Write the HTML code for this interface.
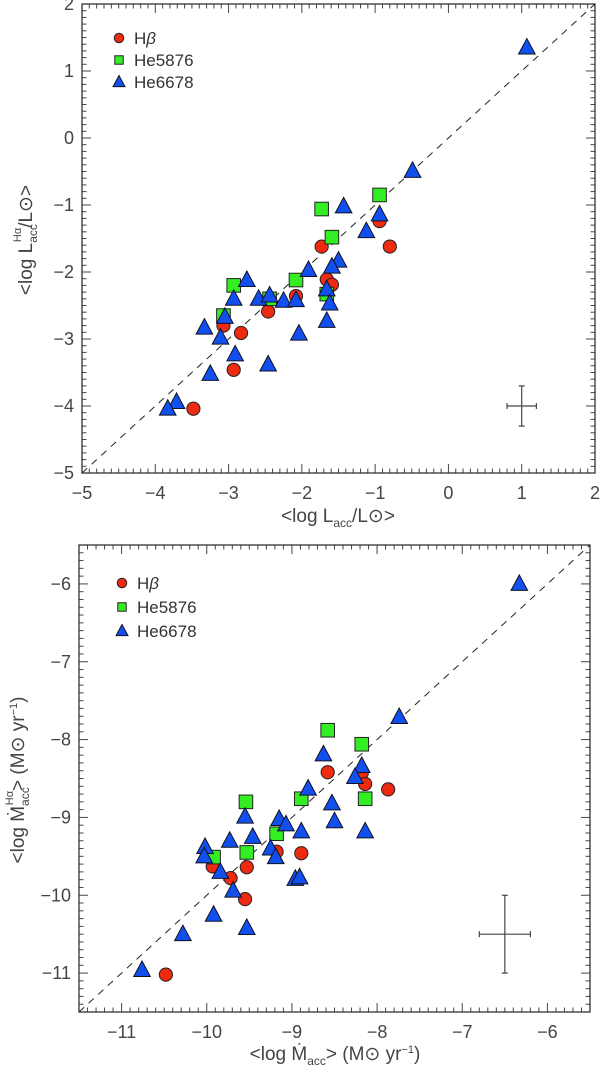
<!DOCTYPE html>
<html><head><meta charset="utf-8">
<style>
html,body{margin:0;padding:0;background:#fff;}
svg{display:block;font-family:"Liberation Sans",sans-serif;}
</style></head>
<body>
<svg id="chart" width="600" height="1066" viewBox="0 0 600 1066" xmlns="http://www.w3.org/2000/svg"></svg>
<script>
// ---- Top panel data (log Lacc) ----
const topHbX = [-3.48,-3.07,-2.83,-2.93,-2.46,-2.08,-1.73,-1.66,-1.59,-0.94,-0.80];
const topHbY = [-4.04,-2.80,-2.91,-3.46,-2.59,-2.36,-1.62,-2.11,-2.19,-1.24,-1.62];
const topHe58X = [-0.94,-1.73,-1.59,-2.08,-2.93,-3.07,-2.44,-1.66];
const topHe58Y = [-0.85,-1.06,-1.48,-2.12,-2.20,-2.65,-2.40,-2.33];
const topHe66X = [1.07,-0.49,-1.43,-0.94,-1.12,-1.50,-1.59,-1.91,-2.75,-2.93,-2.59,-2.44,-2.25,-2.08,-1.66,-1.62,-1.66,-2.04,-3.05,-3.33,-3.11,-2.91,-2.46,-3.25,-3.71,-3.83];
const topHe66Y = [1.35,-0.49,-1.02,-1.14,-1.39,-1.83,-1.92,-1.97,-2.12,-2.40,-2.40,-2.35,-2.43,-2.42,-2.26,-2.47,-2.73,-2.92,-2.67,-2.83,-2.98,-3.23,-3.38,-3.52,-3.94,-4.04];
const topErr = [1.0,-4.0,0.2,0.3];
const topTicks = [-5,-4,-3,-2,-1,0,1,2];
// ---- Bottom panel data (log Mdot) ----
const botHbX = [-10.48,-9.93,-9.72,-9.53,-9.55,-9.18,-8.89,-8.58,-8.18,-8.14,-7.87];
const botHbY = [-11.02,-9.63,-9.78,-9.64,-10.05,-9.44,-9.46,-8.42,-8.43,-8.57,-8.64];
const botHe58X = [-8.58,-8.18,-8.14,-8.89,-9.54,-9.18,-9.53,-9.92];
const botHe58Y = [-7.88,-8.06,-8.76,-8.76,-8.80,-9.21,-9.45,-9.51];
const botHe66X = [-6.33,-7.74,-8.63,-8.18,-8.26,-8.81,-8.53,-8.50,-8.14,-8.89,-9.15,-9.07,-9.46,-9.55,-9.73,-9.25,-9.19,-10.02,-10.03,-9.84,-9.69,-8.96,-8.91,-9.92,-9.53,-10.28,-10.76];
const botHe66Y = [-6.00,-7.71,-8.19,-8.34,-8.48,-8.63,-8.82,-9.05,-9.18,-9.18,-9.02,-9.09,-9.25,-8.99,-9.30,-9.40,-9.51,-9.38,-9.50,-9.70,-9.94,-9.79,-9.77,-10.25,-10.42,-10.50,-10.96];
const botErr = [-6.5,-10.5,0.3,0.5];
const botTicksX = [-11,-10,-9,-8,-7,-6];
const botTicksY = [-11,-10,-9,-8,-7,-6];

const NS = "http://www.w3.org/2000/svg";
const svg = document.getElementById('chart');
function mk(tag, attrs, parent){
  const e = document.createElementNS(NS, tag);
  for (const k in attrs) e.setAttribute(k, attrs[k]);
  (parent||svg).appendChild(e);
  return e;
}

function panel(cfg){
  const g = mk('g', {});
  
  
  const sx = v => cfg.L + (v - cfg.x0) / (cfg.x1 - cfg.x0) * (cfg.R - cfg.L);
  const sy = v => cfg.B - (v - cfg.y0) / (cfg.y1 - cfg.y0) * (cfg.B - cfg.T);
  const tg = mk('g', {stroke:'#444','stroke-width':1}, g);
  
  
  for (let i = Math.round(cfg.x0*10); i <= Math.round(cfg.x1*10); i++){
    const v = i/10, x = sx(v), len = (i % 10 === 0) ? 9 : 4.5;
    mk('line', {x1:x, y1:cfg.B, x2:x, y2:cfg.B-len}, tg);
    mk('line', {x1:x, y1:cfg.T, x2:x, y2:cfg.T+len}, tg);
  }
  for (let i = Math.round(cfg.y0*10); i <= Math.round(cfg.y1*10); i++){
    const v = i/10, y = sy(v), len = (i % 10 === 0) ? 9 : 4.5;
    mk('line', {x1:cfg.L, y1:y, x2:cfg.L+len, y2:y}, tg);
    mk('line', {x1:cfg.R, y1:y, x2:cfg.R-len, y2:y}, tg);
  }
  const fr = mk('rect', {x:cfg.L, y:cfg.T, width:cfg.R-cfg.L, height:cfg.B-cfg.T, fill:'none', stroke:'#333','stroke-width':1.3}, g);
  
  
  cfg.xt.forEach(v => {
    const t = mk('text', {x:sx(v), y:cfg.B+26, 'text-anchor':'middle', 'font-size':18, fill:'#444'}, g);
    
    
    t.textContent = (v < 0 ? '\u2212' : '') + Math.abs(v);
  });
  cfg.yt.forEach(v => {
    const t = mk('text', {x:cfg.L-8, y:sy(v)+6, 'text-anchor':'end', 'font-size':18, fill:'#444'}, g);
    
    
    t.textContent = (v < 0 ? '\u2212' : '') + Math.abs(v);
  });
  const cid = cfg.name + '-clip';
  const cp = mk('clipPath', {id:cid}, g);
  mk('rect', {x:cfg.L, y:cfg.T, width:cfg.R-cfg.L, height:cfg.B-cfg.T}, cp);
  const lo = Math.max(cfg.x0, cfg.y0), hi = Math.min(cfg.x1, cfg.y1);
  const dl = mk('line', {x1:sx(lo), y1:sy(lo), x2:sx(hi), y2:sy(hi), stroke:'#222', 'stroke-width':1, 'stroke-dasharray':'7,6', 'clip-path':'url(#'+cid+')'}, g);
  
  
  const circ = (x,y,parent,s) => mk('circle', {cx:x, cy:y, r:6.6*s, fill:'#ee2a10', stroke:'#222', 'stroke-width':1}, parent);
  const sq = (x,y,parent,s) => mk('rect', {x:x-6.8*s, y:y-6.8*s, width:13.6*s, height:13.6*s, fill:'#33ee22', stroke:'#222', 'stroke-width':1}, parent);
  const tri = (x,y,parent,s) => mk('polygon', {points:`${x},${y-9*s} ${x-8.3*s},${y+6.5*s} ${x+8.3*s},${y+6.5*s}`, fill:'#1150ee', stroke:'#112', 'stroke-width':1}, parent);
  const s1 = mk('g', {}, g);
  
  
  cfg.hbX.forEach((v,i) => { const m = circ(sx(v), sy(cfg.hbY[i]), s1, 1);
    
     });
  const s2 = mk('g', {}, g);
  
  
  cfg.h58X.forEach((v,i) => { const m = sq(sx(v), sy(cfg.h58Y[i]), s2, 1);
    
     });
  const s3 = mk('g', {}, g);
  
  
  cfg.h66X.forEach((v,i) => { const m = tri(sx(v), sy(cfg.h66Y[i]), s3, 1);
    
     });
  const e = cfg.err;
  const eg = mk('g', {stroke:'#444', 'stroke-width':1.2}, g);
  
  
  mk('line', {x1:sx(e[0]-e[2]), y1:sy(e[1]), x2:sx(e[0]+e[2]), y2:sy(e[1])}, eg);
  mk('line', {x1:sx(e[0]), y1:sy(e[1]-e[3]), x2:sx(e[0]), y2:sy(e[1]+e[3])}, eg);
  mk('line', {x1:sx(e[0]-e[2]), y1:sy(e[1])-3, x2:sx(e[0]-e[2]), y2:sy(e[1])+3}, eg);
  mk('line', {x1:sx(e[0]+e[2]), y1:sy(e[1])-3, x2:sx(e[0]+e[2]), y2:sy(e[1])+3}, eg);
  mk('line', {x1:sx(e[0])-3, y1:sy(e[1]-e[3]), x2:sx(e[0])+3, y2:sy(e[1]-e[3])}, eg);
  mk('line', {x1:sx(e[0])-3, y1:sy(e[1]+e[3]), x2:sx(e[0])+3, y2:sy(e[1]+e[3])}, eg);
  const lg = mk('g', {}, g);
  
  
  const lx = cfg.legX, ly = cfg.legY, dy = cfg.legDy;
  circ(lx, ly, lg, 0.72); sq(lx, ly+dy, lg, 0.62); tri(lx, ly+2*dy, lg, 0.72);
  const labels = [['H','\u03b2'],['He5876',''],['He6678','']];
  labels.forEach((l,i) => {
    const t = mk('text', {x:lx+15, y:ly+i*dy+6, 'font-size':17, fill:'#333'}, lg);
    
    
    t.textContent = l[0];
    if (l[1]) { const ts = mk('tspan', {'font-style':'italic'}, t); ts.textContent = l[1]; }
  });
  return {sx, sy, g};
}

panel({name:'top-panel', L:82, R:595, T:4, B:473, x0:-5, x1:2, y0:-5, y1:2,
  xt:topTicks, yt:topTicks, hbX:topHbX, hbY:topHbY, h58X:topHe58X, h58Y:topHe58Y,
  h66X:topHe66X, h66Y:topHe66Y, err:topErr, legX:119, legY:38, legDy:22});
panel({name:'bottom-panel', L:79, R:590, T:545, B:1012, x0:-11.5, x1:-5.5, y0:-11.5, y1:-5.5,
  xt:botTicksX, yt:botTicksY, hbX:botHbX, hbY:botHbY, h58X:botHe58X, h58Y:botHe58Y,
  h66X:botHe66X, h66Y:botHe66Y, err:botErr, legX:122, legY:583, legDy:24});
</script>
<script>
(function(){
  const NS = "http://www.w3.org/2000/svg";
  const svg = document.getElementById('chart');
  function add(html, attrs, name){
    const t = document.createElementNS(NS, 'text');
    for (const k in attrs) t.setAttribute(k, attrs[k]);
    
    
    t.innerHTML = html;
    svg.appendChild(t);
  }
  add('&lt;log  L<tspan font-size="12" dy="5">acc</tspan><tspan dy="-5">/L⊙&gt;</tspan>',
      {x:338, y:522, 'text-anchor':'middle', 'font-size':19, fill:'#444'}, 'top-x-axis-title');
  add('&lt;log  L<tspan font-size="12" dy="5">acc</tspan><tspan font-size="11" dx="-18" dy="-16">Hα</tspan><tspan dy="11">/L⊙&gt;</tspan>',
      {x:0, y:0, transform:'translate(32,240) rotate(-90)', 'text-anchor':'middle', 'font-size':19, fill:'#444'}, 'top-y-axis-title');
  add('&lt;log  Ṁ<tspan font-size="12" dy="5">acc</tspan><tspan dy="-5">&gt;  (M⊙  yr</tspan><tspan font-size="11" dy="-7">−1</tspan><tspan dy="7">)</tspan>',
      {x:335, y:1060, 'text-anchor':'middle', 'font-size':19, fill:'#444'}, 'bottom-x-axis-title');
  add('&lt;log  Ṁ<tspan font-size="12" dy="5">acc</tspan><tspan font-size="11" dx="-18" dy="-16">Hα</tspan><tspan dy="11">&gt;  (M⊙  yr</tspan><tspan font-size="11" dy="-7">−1</tspan><tspan dy="7">)</tspan>',
      {x:0, y:0, transform:'translate(24,780) rotate(-90)', 'text-anchor':'middle', 'font-size':19, fill:'#444'}, 'bottom-y-axis-title');
})();
</script>
</body></html>
